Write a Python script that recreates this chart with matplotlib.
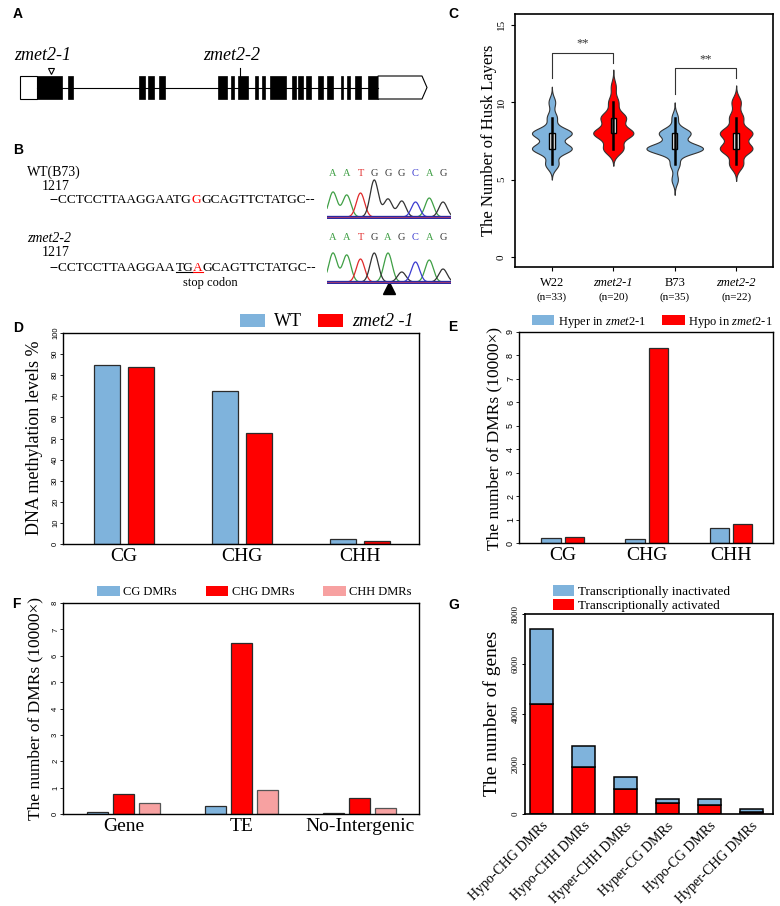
import numpy as np
import matplotlib.pyplot as plt
from matplotlib.patches import Rectangle, Polygon, Patch

plt.rcParams['font.family'] = 'Liberation Serif'
plt.rcParams['mathtext.fontset'] = 'custom'
plt.rcParams['mathtext.rm'] = 'Liberation Serif'
plt.rcParams['mathtext.it'] = 'Liberation Serif:italic'

W, H = 780, 906

# panel A: gene model (drawing units)
utr5 = (20, 37)
utr3 = (378, 427)
exons = [(37, 62), (68, 73), (139, 145), (148, 154), (159, 165), (218, 227),
         (231, 234), (238, 248), (255, 258), (262, 265), (270, 286), (292, 296),
         (298, 303), (306, 311), (318, 323), (327, 333), (341, 343), (347, 350),
         (355, 361), (368, 378)]
site_zmet21 = 51
site_zmet22 = 240

# panel B: sequencing traces
wt_seq = ["--CCTCCTTAAGGAATG", "G", "GCAGTTCTATGC--"]
mut_seq = ["--CCTCCTTAAGGAA", "TG", "A", "GCAGTTCTATGC--"]
wt_bases = "AATGGGCAG"
wt_peaks = [25, 22, 24, 37, 18, 16, 15, 19, 15]
mut_bases = "AATGAGCAG"
mut_peaks = [29, 27, 23, 29, 29, 10, 20, 22, 13]

# panel C: number of husk layers (counts per layer value)
layers = [4, 5, 6, 7, 8, 9, 10, 11, 12]
w22_n = [0, 0, 4, 12, 12, 3, 2, 0, 0]
zmet21_n = [0, 0, 0, 4, 8, 5, 2, 1, 0]
b73_n = [0, 2, 3, 18, 10, 2, 0, 0, 0]
zmet22_n = [0, 0, 3, 7, 7, 3, 2, 0, 0]
groups = ["W22", "zmet2-1", "B73", "zmet2-2"]
group_n = ["(n=33)", "(n=20)", "(n=35)", "(n=22)"]

# panel D
contexts = ["CG", "CHG", "CHH"]
meth_wt = [85, 72.5, 2.3]
meth_mut = [84, 52.5, 1.5]

# panel E
dmr_hyper = [0.2, 0.15, 0.65]
dmr_hypo = [0.25, 8.3, 0.8]

# panel F
regions = ["Gene", "TE", "No-Intergenic"]
cg_dmr = [0.08, 0.32, 0.02]
chg_dmr = [0.75, 6.5, 0.6]
chh_dmr = [0.4, 0.9, 0.22]

# panel G
dmr_types = ["Hypo-CHG DMRs", "Hypo-CHH DMRs", "Hyper-CHH DMRs",
             "Hyper-CG DMRs", "Hypo-CG DMRs", "Hyper-CHG DMRs"]
activated = [4400, 1900, 1000, 425, 360, 100]
inactivated = [3000, 840, 480, 185, 250, 100]

BLUE = "#7fb3dc"
RED = "#ff0000"
PINK = "#f7a1a1"
EDGE = "#2b2b2b"
BASE_COL = {"A": "#3f9f45", "T": "#e02a2a", "G": "#333333", "C": "#3b3bd0"}

fig = plt.figure(figsize=(W / 100, H / 100), dpi=100)
fig.patch.set_facecolor('white')


def px_axes(l, t, r, b):
    return fig.add_axes([l / W, 1 - b / H, (r - l) / W, (b - t) / H])


def fxy(x, y):
    return (x / W, 1 - y / H)


# canvas in pixel units for schematic parts and labels
cv = fig.add_axes([0, 0, 1, 1])
cv.set_xlim(0, W)
cv.set_ylim(H, 0)
cv.axis('off')

for lab, x, y in [("A", 18, 14), ("B", 18, 150), ("C", 453, 14), ("D", 18, 328),
                  ("E", 453, 327), ("F", 16, 604), ("G", 454, 605)]:
    cv.text(x, y, lab, family='Liberation Sans', weight='bold', fontsize=10,
            ha='center', va='center')

# ---- A: gene model ----
gy, gh = 76, 23
cv.plot([utr5[1], utr3[0]], [gy + gh / 2, gy + gh / 2], color='k', lw=0.8)
cv.add_patch(Rectangle((utr5[0], gy), utr5[1] - utr5[0], gh, fc='white', ec='k', lw=0.8))
for s, e in exons:
    cv.add_patch(Rectangle((s, gy), e - s, gh, fc='black', ec='black', lw=0.5))
cv.add_patch(Polygon([(utr3[0], gy), (utr3[1] - 5, gy), (utr3[1], gy + gh / 2),
                      (utr3[1] - 5, gy + gh), (utr3[0], gy + gh)],
                     closed=True, fc='white', ec='k', lw=0.8))
cv.plot([site_zmet21], [70.5], marker='v', ms=5, mfc='white', mec='k', mew=0.8)
cv.plot([site_zmet22, site_zmet22], [68, gy], color='k', lw=0.8)
cv.text(43, 56, "zmet2-1", style='italic', fontsize=13, ha='center', va='center')
cv.text(232, 56, "zmet2-2", style='italic', fontsize=13, ha='center', va='center')

# ---- B: sequences ----
cv.text(27, 172, "WT(B73)", fontsize=10, ha='left', va='center')
cv.text(42, 187, "1217", fontsize=10, ha='left', va='center')
cv.text(27, 238, "zmet2-2", style='italic', fontsize=10, ha='left', va='center')
cv.text(42, 253, "1217", fontsize=10, ha='left', va='center')


def seq_line(parts, colors, x, y):
    arts = []
    t = cv.text(x, y, parts[0], color=colors[0], fontsize=9.6, ha='left', va='center')
    arts.append(t)
    for p, c in zip(parts[1:], colors[1:]):
        t = cv.annotate(p, xy=(1, 0.5), xycoords=t, color=c, fontsize=9.6,
                        ha='left', va='center')
        arts.append(t)
    return arts


seq_line(wt_seq, ['k', RED, 'k'], 50, 200)
mut_arts = seq_line(mut_seq, ['k', 'k', RED, 'k'], 50, 268)
cv.text(210, 283, "stop codon", fontsize=9, ha='center', va='center')

fig.canvas.draw()
inv = cv.transData.inverted()
for art, c in zip(mut_arts[1:3], ['k', RED]):
    bb = art.get_window_extent()
    (x0, y0), (x1, y1) = inv.transform([(bb.x0, bb.y0), (bb.x1, bb.y1)])
    cv.plot([x0, x1], [y0 - 2.5, y0 - 2.5], color=c, lw=0.8)


# ---- B: chromatograms ----
def chromatogram(top, bases, peaks, letter_y):
    ax = px_axes(327, top, 451, top + 61)
    ax.set_xlim(-0.436, 8.58)
    ax.set_ylim(-2, 59)
    ax.axis('off')
    xs = np.linspace(-0.436, 8.58, 400)
    for b, col in BASE_COL.items():
        y = np.zeros_like(xs)
        for i, (bb, h) in enumerate(zip(bases, peaks)):
            if bb == b:
                y += h * np.exp(-0.5 * ((xs - i) / 0.3) ** 2)
        ax.plot(xs, y, color=col, lw=0.9)
    ax.plot([-0.436, 8.58], [0, 0], color="#2a2aa0", lw=2.4)
    ax.plot([-0.436, 8.58], [0.3, 0.3], color="#d04060", lw=0.5)
    for i, b in enumerate(bases):
        cv.text(333 + 13.75 * i, letter_y, b, color=BASE_COL[b], fontsize=7.5,
                ha='center', va='center')
    return ax


chromatogram(158, wt_bases, wt_peaks, 173)
chromatogram(223, mut_bases, mut_peaks, 237)
cv.plot([389], [288], marker='^', ms=8, color='k')

# ---- C: violins ----
axc = px_axes(515, 14, 773, 267)
data_c = [np.repeat(layers, n) for n in [w22_n, zmet21_n, b73_n, zmet22_n]]
cols_c = [BLUE, RED, BLUE, RED]


def kde(vals):
    n = len(vals)
    q75, q25 = np.percentile(vals, [75, 25])
    h = 0.9 * min(vals.std(ddof=1), (q75 - q25) / 1.34) * n ** -0.2
    grid = np.linspace(vals.min() - 3 * h, vals.max() + 3 * h, 300)
    d = np.exp(-0.5 * ((grid[:, None] - vals[None, :]) / h) ** 2).sum(1) / (n * h * np.sqrt(2 * np.pi))
    return grid, d


dens = [kde(v.astype(float)) for v in data_c]
hscale = 0.46 / max(d.max() for _, d in dens)
for i, (v, (grid, d), col) in enumerate(zip(data_c, dens, cols_c)):
    x = i + 1
    axc.fill_betweenx(grid, x - d * hscale, x + d * hscale, fc=col, ec="#333333", lw=0.8)
    q1, q3 = np.percentile(v, [25, 75])
    iqr = q3 - q1
    lo = v[v >= q1 - 1.5 * iqr].min()
    hi = v[v <= q3 + 1.5 * iqr].max()
    axc.plot([x, x], [lo, hi], color='k', lw=1.8)
    axc.add_patch(Rectangle((x - 0.045, q1), 0.09, q3 - q1, fc='white', ec='k', lw=1))

for a, b in [(0, 1), (2, 3)]:
    ma, mb = data_c[a].max(), data_c[b].max()
    top = max(ma, mb) + 2.2
    axc.plot([a + 1, a + 1, b + 1, b + 1], [ma + 1.55, top, top, mb + 1.55], color='#333333', lw=0.8)
    axc.text((a + b) / 2 + 1, top + 0.2, "**", ha='center', va='bottom', fontsize=9, color='#333333')

axc.set_xlim(0.4, 4.6)
axc.set_ylim(-0.65, 15.7)
axc.set_yticks([0, 5, 10, 15])
axc.set_yticklabels(["0", "5", "10", "15"], rotation=90, va='center', fontsize=8)
axc.set_xticks([1, 2, 3, 4])
axc.set_xticklabels([])
for i, (g, n) in enumerate(zip(groups, group_n)):
    st = 'italic' if g.startswith('zmet') else 'normal'
    axc.text(i + 1, -0.063, g, style=st, fontsize=9, ha='center', va='center',
             transform=axc.get_xaxis_transform())
    axc.text(i + 1, -0.119, n, fontsize=8, ha='center', va='center',
             transform=axc.get_xaxis_transform())
axc.tick_params(length=3, width=0.8)
for s in axc.spines.values():
    s.set_linewidth(1.2)
cv.text(489, 140, "The Number of Husk Layers", rotation=90, fontsize=12, ha='center', va='center')


def bar_axes(ax, ylim, yticks, xlim, cats):
    ax.set_ylim(*ylim)
    ax.set_xlim(*xlim)
    ax.set_yticks(yticks)
    ax.set_yticklabels([str(t) for t in yticks], rotation=90, va='center',
                       fontsize=5.5, family='Liberation Sans')
    ax.set_xticks(range(len(cats)))
    ax.set_xticklabels(cats, fontsize=14)
    ax.tick_params(axis='x', length=0, pad=3)
    ax.tick_params(axis='y', length=2, width=0.6, pad=0.8)
    for s in ax.spines.values():
        s.set_linewidth(1.0)


# ---- D ----
axd = px_axes(63, 333, 419, 544)
xd = np.arange(len(contexts))
axd.bar(xd - 0.144, meth_wt, 0.22, color=BLUE, edgecolor=EDGE, lw=0.9)
axd.bar(xd + 0.144, meth_mut, 0.22, color=RED, edgecolor=EDGE, lw=0.9)
bar_axes(axd, (0, 100), list(range(0, 101, 10)), (-0.517, 2.5), contexts)
cv.text(35, 438, "DNA methylation levels %", rotation=90, fontsize=13, ha='center', va='center')
leg = fig.legend([Patch(fc=BLUE), Patch(fc=RED)], ["WT", "zmet2 -1"], loc='center right',
                 bbox_to_anchor=fxy(414, 322), ncol=2, frameon=False, fontsize=13,
                 handlelength=1.4, handleheight=0.7, handletextpad=0.5, columnspacing=0.9,
                 borderpad=0, borderaxespad=0)
leg.get_texts()[1].set_style('italic')

# ---- E ----
axe = px_axes(519, 332, 773, 543)
axe.bar(xd - 0.14, dmr_hyper, 0.23, color=BLUE, edgecolor=EDGE, lw=0.9)
axe.bar(xd + 0.14, dmr_hypo, 0.23, color=RED, edgecolor=EDGE, lw=0.9)
bar_axes(axe, (0, 9), list(range(0, 10)), (-0.52, 2.5), contexts)
axe.set_yticklabels([str(t) for t in range(10)], rotation=90, va='center', fontsize=6.5)
cv.text(494, 438, "The number of DMRs (10000\u00d7)", rotation=90, fontsize=12.5, ha='center', va='center')
fig.legend([Patch(fc=BLUE), Patch(fc=RED)],
           ["Hyper in $\\it{zmet2}$-$\\it{1}$", "Hypo in $\\it{zmet2}$-$\\it{1}$"],
           loc='center right', bbox_to_anchor=fxy(773, 322), ncol=2, frameon=False,
           fontsize=9, handlelength=1.8, handleheight=0.9, handletextpad=0.3,
           columnspacing=1.3, borderpad=0, borderaxespad=0)

# ---- F ----
axf = px_axes(63, 603, 419, 814)
xf = np.arange(len(regions))
axf.bar(xf - 0.22, cg_dmr, 0.178, color=BLUE, edgecolor=EDGE, lw=0.9)
axf.bar(xf, chg_dmr, 0.178, color=RED, edgecolor=EDGE, lw=0.9)
axf.bar(xf + 0.22, chh_dmr, 0.178, color=PINK, edgecolor="#555555", lw=0.9)
bar_axes(axf, (0, 8), list(range(0, 9)), (-0.513, 2.5), regions)
cv.text(35, 708, "The number of DMRs (10000\u00d7)", rotation=90, fontsize=12.5, ha='center', va='center')
fig.legend([Patch(fc=BLUE), Patch(fc=RED), Patch(fc=PINK)], ["CG DMRs", "CHG DMRs", "CHH DMRs"],
           loc='center left', bbox_to_anchor=fxy(97, 592), ncol=3, frameon=False,
           fontsize=9, handlelength=1.8, handleheight=0.9, handletextpad=0.3,
           columnspacing=2.3, borderpad=0, borderaxespad=0)

# ---- G ----
axg = px_axes(525, 614, 773, 814)
xg = np.arange(len(dmr_types))
axg.bar(xg, activated, 0.55, color=RED, edgecolor='k', lw=1.1)
axg.bar(xg, inactivated, 0.55, bottom=activated, color=BLUE, edgecolor='k', lw=1.1)
axg.set_ylim(0, 8000)
axg.set_xlim(-0.39, 5.52)
axg.set_yticks([0, 2000, 4000, 6000, 8000])
axg.set_yticklabels(["0", "2000", "4000", "6000", "8000"], rotation=90, va='center', fontsize=6.5)
axg.set_xticks(xg)
axg.set_xticklabels(dmr_types, rotation=45, ha='right', rotation_mode='anchor', fontsize=10)
axg.tick_params(axis='x', length=0, pad=4)
axg.tick_params(axis='y', length=2.5, width=0.7, pad=1.5)
for s in axg.spines.values():
    s.set_linewidth(1.2)
cv.text(492, 713, "The number of genes", rotation=90, fontsize=14, ha='center', va='center')
fig.legend([Patch(fc=BLUE), Patch(fc=RED)], ["Transcriptionally inactivated", "Transcriptionally activated"],
           loc='center left', bbox_to_anchor=fxy(553, 598.5), ncol=1, frameon=False,
           fontsize=9.5, handlelength=1.6, handleheight=0.9, handletextpad=0.3,
           labelspacing=0.1, borderpad=0, borderaxespad=0)

fig.savefig("out.png", dpi=100)
